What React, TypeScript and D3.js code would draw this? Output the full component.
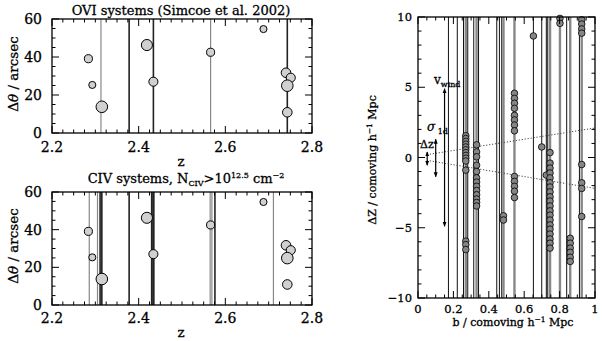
import React from 'react';
import * as d3 from 'd3';

// galaxies around the QSO sightline (left panels)
const galZ = [2.284, 2.293, 2.315, 2.419, 2.434, 2.566, 2.688, 2.740, 2.751, 2.743, 2.743];
const galTheta = [39.1, 25.3, 13.8, 46.3, 27.0, 42.5, 54.7, 31.7, 29.1, 24.9, 10.9];
const galMag = [24.4, 24.8, 23.0, 23.2, 24.0, 24.4, 24.8, 23.8, 24.0, 23.0, 23.8];

// absorber redshifts
const oviZ = [2.313, 2.378, 2.434, 2.566, 2.743];
const oviStrong = [false, true, true, false, true];
const civZ = [2.286, 2.305, 2.311, 2.315, 2.378, 2.430, 2.433, 2.435, 2.565, 2.569, 2.576, 2.711];
const civStrong = [false, false, true, true, true, true, true, true, false, false, true, false];

// right panel : sightlines (b) and galaxy offsets along them
const losBlack = [0.172, 0.222, 0.257, 0.281, 0.315, 0.342, 0.445, 0.46, 0.473, 0.652, 0.699, 0.725, 0.733, 0.84, 0.912];
const losGray = [0.27, 0.331, 0.483, 0.545, 0.746, 0.802, 0.86, 0.925];
const groupB = [0.27, 0.331, 0.483, 0.545, 0.652, 0.699, 0.725, 0.746, 0.802, 0.86, 0.925];
const groupDZ = [
  [1.55, 1.35, 1.15, 0.95, 0.75, 0.55, 0.35, 0.15, -0.05, -0.25, -0.9, -5.95, -6.2, -6.55],
  [0.9, 0.4, 0.05, -0.55, -1.0, -1.45, -1.75, -2.05, -2.35, -2.65, -2.95, -3.2, -3.45],
  [-4.15, -4.45],
  [4.57, 4.21, 3.86, 3.5, 3.0, 2.67, 2.31, 1.9, -1.35, -1.7, -2.05, -2.4, -2.85],
  [8.65],
  [0.75],
  [-1.25],
  [0.35, -0.4, -0.75, -1.1, -1.45, -1.8, -2.1, -2.45, -2.8, -3.1, -3.45, -3.8, -4.1, -4.45, -4.8, -5.1, -5.45, -5.8, -6.1, -6.45],
  [9.9, 9.55],
  [-5.75, -6.1, -6.45, -6.75, -7.1, -7.4],
  [9.8, 9.5, 9.15, 8.85, -0.5, -1.8, -2.2, -4.2],
];

// annotations
const windB = 0.15, vWind = 4.9;
const sigB = 0.1, sigHi = 1.3, sigLo = -1.37;
const dzB = 0.052, dzHi = 0.4, dzLo = -0.55;
const coneB = [0.05, 1];
const coneHi = [0.2, 2.1];
const coneLo = [-0.2, -2.2];

const font = 'DejaVu Serif';
const ink = { fontFamily: font, stroke: '#000', strokeWidth: 0.3 };

const Frame = ({ x, y, xMaj, xMin, yMaj, yMin, xFmt, yFmt, fs, xLabY, yLabX }) => {
  const [x0, x1] = x.range();
  const [y0, y1] = y.range();
  const els = [];
  xMin.forEach((v, i) => {
    const len = xMaj.some(m => Math.abs(m - v) < 1e-6) ? 7 : 3.5;
    els.push(<line key={'xb' + i} x1={x(v)} x2={x(v)} y1={y0} y2={y0 - len} stroke="#000" />);
    els.push(<line key={'xt' + i} x1={x(v)} x2={x(v)} y1={y1} y2={y1 + len} stroke="#000" />);
  });
  yMin.forEach((v, i) => {
    const len = yMaj.some(m => Math.abs(m - v) < 1e-6) ? 7 : 3.5;
    els.push(<line key={'yl' + i} x1={x0} x2={x0 + len} y1={y(v)} y2={y(v)} stroke="#000" />);
    els.push(<line key={'yr' + i} x1={x1} x2={x1 - len} y1={y(v)} y2={y(v)} stroke="#000" />);
  });
  return (
    <g>
      <rect x={x0} y={y1} width={x1 - x0} height={y0 - y1} fill="none" stroke="#000" strokeWidth={1.3} />
      {els}
      {xMaj.map((v, i) => (
        <text key={'xl' + i} x={x(v)} y={xLabY} textAnchor="middle" fontSize={fs} {...ink}>{xFmt(v)}</text>
      ))}
      {yMaj.map((v, i) => (
        <text key={'yl' + i} x={yLabX} y={y(v) + fs * 0.35} textAnchor="end" fontSize={fs} {...ink}>{yFmt(v)}</text>
      ))}
    </g>
  );
};

const ZPanel = ({ yRange, lines, strong, title, yLab, xLabY, zLabY }) => {
  const x = d3.scaleLinear().domain([2.2, 2.8]).range([52, 312]);
  const y = d3.scaleLinear().domain([0, 60]).range(yRange);
  const r = d3.scaleLinear().domain([25, 23]).range([3.3, 5.8]);
  const [yb, yt] = yRange;
  return (
    <g>
      {lines.map((z, i) => (
        <line key={i} x1={x(z)} x2={x(z)} y1={yb} y2={yt}
          stroke={strong[i] ? '#222' : '#888'} strokeWidth={strong[i] ? 1.6 : 1.2} />
      ))}
      {galZ.map((z, i) => (
        <circle key={i} cx={x(z)} cy={y(galTheta[i])} r={r(galMag[i])} fill="#d0d0d0" stroke="#000" strokeWidth={1} />
      ))}
      <Frame x={x} y={y}
        xMaj={[2.2, 2.4, 2.6, 2.8]} xMin={d3.range(2.2, 2.8001, 0.025)}
        yMaj={[0, 20, 40, 60]} yMin={d3.range(0, 60.01, 5)}
        xFmt={d3.format('.1f')} yFmt={d3.format('d')} fs={14} xLabY={xLabY} yLabX={42} />
      <text x={181} y={zLabY} textAnchor="middle" fontSize={13.5} {...ink}>z</text>
      <text transform={`translate(18,${yLab}) rotate(-90)`} textAnchor="middle" fontSize={13.5} {...ink}>
        Δ<tspan fontStyle="italic">θ</tspan> / arcsec
      </text>
      {title}
    </g>
  );
};

export default function App() {
  const x = d3.scaleLinear().domain([0, 1]).range([418, 595]);
  const y = d3.scaleLinear().domain([-10, 10]).range([298, 17]);
  const pts = groupB.flatMap((b, i) => groupDZ[i].map(dz => [b, dz]));
  const cone = d3.line().x(d => x(d[0])).y(d => y(d[1]));
  return (
    <svg width={602} height={341} style={{ position: 'absolute', left: 0, top: 0, background: '#fff' }}>
      <defs>
        <marker id="ah" viewBox="0 0 10 10" refX="9" refY="5" markerWidth="5" markerHeight="7" orient="auto-start-reverse" markerUnits="userSpaceOnUse">
          <path d="M0,1 L10,5 L0,9 z" fill="#000" />
        </marker>
      </defs>

      <ZPanel yRange={[133, 19]} lines={oviZ} strong={oviStrong} yLab={74} xLabY={152} zLabY={166}
        title={<text x={181} y={15} textAnchor="middle" fontSize={13} {...ink}>OVI systems (Simcoe et al. 2002)</text>} />
      <ZPanel yRange={[305, 192]} lines={civZ} strong={civStrong} yLab={246} xLabY={323} zLabY={337}
        title={<text x={186} y={183} textAnchor="middle" fontSize={13} {...ink}>
          CIV systems, N<tspan fontSize={8} dy={3}>CIV</tspan><tspan dy={-3}>&gt;10</tspan><tspan fontSize={8} dy={-5}>12.5</tspan><tspan dy={5}> cm</tspan><tspan fontSize={8} dy={-5}>−2</tspan>
        </text>} />

      {/* right panel */}
      <g>
        {losBlack.map((b, i) => (
          <line key={'k' + i} x1={x(b)} x2={x(b)} y1={298} y2={17} stroke="#111" strokeWidth={1} />
        ))}
        {losGray.map((b, i) => (
          <line key={'g' + i} x1={x(b)} x2={x(b)} y1={298} y2={17} stroke="#888" strokeWidth={2.4} />
        ))}
        <path d={cone(coneB.map((b, i) => [b, coneHi[i]]))} fill="none" stroke="#444" strokeDasharray="1.2,1.8" />
        <path d={cone(coneB.map((b, i) => [b, coneLo[i]]))} fill="none" stroke="#444" strokeDasharray="1.2,1.8" />
        {pts.map((p, i) => (
          <circle key={i} cx={x(p[0])} cy={y(p[1])} r={3.3} fill="#858585" stroke="#000" strokeWidth={0.8} />
        ))}
        <line x1={x(windB)} x2={x(windB)} y1={y(-vWind)} y2={y(vWind)} stroke="#000" strokeWidth={1.2} markerStart="url(#ah)" markerEnd="url(#ah)" />
        <line x1={x(sigB)} x2={x(sigB)} y1={y(sigLo)} y2={y(sigHi)} stroke="#000" strokeWidth={1.2} markerStart="url(#ah)" markerEnd="url(#ah)" />
        <line x1={x(dzB)} x2={x(dzB)} y1={y(dzLo)} y2={y(dzHi)} stroke="#000" strokeWidth={1.2} markerStart="url(#ah)" markerEnd="url(#ah)" />
        <text x={434} y={84} fontSize={12} {...ink}>v<tspan fontSize={8} dy={3}>wind</tspan></text>
        <text x={427} y={131} fontSize={12} fontStyle="italic" {...ink}>σ<tspan fontSize={8} dy={3} fontStyle="normal"> 1d</tspan></text>
        <text x={420} y={148} fontSize={11} {...ink}>Δz</text>
        <Frame x={x} y={y}
          xMaj={[0, 0.2, 0.4, 0.6, 0.8, 1]} xMin={d3.range(0, 1.0001, 0.05)}
          yMaj={[-10, -5, 0, 5, 10]} yMin={d3.range(-10, 10.01, 1)}
          xFmt={v => (v === 0 || v === 1 ? String(v) : d3.format('.1f')(v))}
          yFmt={v => (v < 0 ? '−' + Math.abs(v) : String(v))} fs={11.5} xLabY={313} yLabX={412} />
        <text x={513} y={326} textAnchor="middle" fontSize={11} {...ink}>
          b / comoving h<tspan fontSize={7.5} dy={-4}>−1</tspan><tspan dy={4}> Mpc</tspan>
        </text>
        <text transform="translate(376,160) rotate(-90)" textAnchor="middle" fontSize={11} {...ink}>
          ΔZ / comoving h<tspan fontSize={7.5} dy={-4}>−1</tspan><tspan dy={4}> Mpc</tspan>
        </text>
      </g>
    </svg>
  );
}
